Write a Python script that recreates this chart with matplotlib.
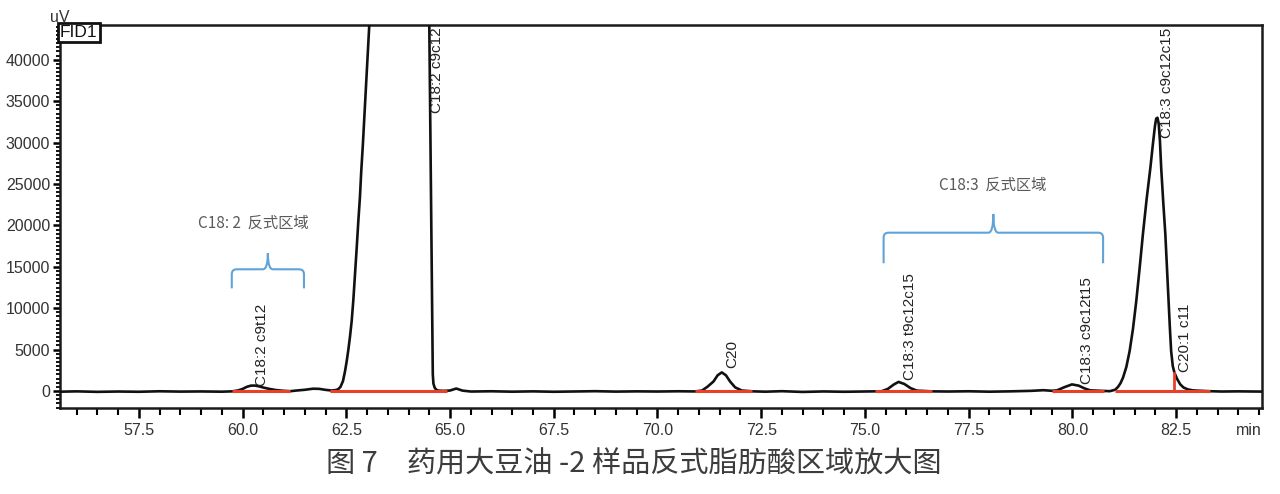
import matplotlib
matplotlib.use("Agg")
import matplotlib.pyplot as plt
from matplotlib.path import Path
from matplotlib.patches import PathPatch
from matplotlib.ticker import MultipleLocator, FixedLocator, FormatStrFormatter

# chromatogram trace (retention time in min, signal in uV)
time_min = [
    55.6, 56.0, 56.5, 57.0, 57.5, 58.0, 58.5, 59.0, 59.5, 59.75, 59.9, 60.0,
    60.1, 60.2, 60.3, 60.4, 60.5, 60.65, 60.8, 61.0, 61.15, 61.3, 61.5, 61.7,
    61.85, 62.0, 62.15, 62.25,
    62.30, 62.36, 62.42, 62.47, 62.51, 62.55, 62.59, 62.63, 62.67, 62.71, 62.75,
    62.79, 62.83, 62.86, 62.90, 62.93, 62.99, 63.05, 63.2, 63.6, 64.0, 64.3,
    64.46, 64.50, 64.585, 64.60, 64.63, 64.67, 64.72,
    64.85, 65.0, 65.15, 65.3, 65.5, 66.0, 66.5, 67.0, 67.5, 68.0, 68.5,
    69.0, 69.5, 70.0, 70.5, 70.9, 71.07, 71.2, 71.35, 71.45, 71.55, 71.65,
    71.75, 71.87, 72.03, 72.3, 72.6, 73.0, 73.5, 74.0, 74.5, 75.0, 75.4, 75.55,
    75.7, 75.81, 75.95, 76.1, 76.25, 76.6, 77.0, 77.5, 78.0, 78.5, 79.0, 79.3,
    79.5, 79.63, 79.8, 79.99, 80.15, 80.3, 80.43, 80.7, 80.9,
    81.03, 81.10, 81.16, 81.22, 81.30, 81.38, 81.46, 81.54, 81.62, 81.70, 81.79,
    81.88, 81.94, 81.99, 82.02, 82.05, 82.08, 82.11, 82.14, 82.19, 82.24, 82.28,
    82.32, 82.35, 82.38, 82.42, 82.46, 82.52, 82.60, 82.68, 82.78, 82.9,
    83.0, 83.3, 83.6, 84.0, 84.6,
]
signal_uv = [
    -80, -40, -100, -60, -90, -30, -70, -50, -80, -40, 80, 250,
    500, 650, 660, 560, 420, 250, 120, 20, -20, 60, 150, 280,
    260, 140, 60, 120,
    200, 500, 1200, 2400, 3600, 5000, 6600, 8450, 11000, 14000, 17200,
    20500, 23500, 26500, 29800, 32600, 38200, 43800, 60000, 90000, 120000, 140000,
    150000, 44500, 2000, 900, 400, 150, 50,
    20, 60, 300, 50, -60, -30, -80, -40, -90, -60, -20,
    -70, -40, -60, -30, -50, 50, 500, 1150, 1900, 2250, 1900,
    1150, 450, 60, -40, -80, -20, -110, -50, -90, -60, -30, 250,
    800, 1100, 850, 350, 50, -40, -60, -30, -80, -40, 20, 100,
    30, 80, 450, 800, 650, 300, 80, 20, -20,
    150, 500, 950, 1610, 2900, 4830, 7500, 10870, 14800, 18960, 23200,
    26970, 29800, 32000, 32900, 33000, 32300, 30200, 26970, 22800, 18960, 14800,
    10870, 7600, 4830, 3000, 2210, 1500, 800, 420, 200, 80,
    50, -20, -60, -40, -70,
]

# peak labels
peak_names = ["C18:2 c9t12", "C18:2 c9c12", "C20", "C18:3 t9c12c15",
              "C18:3 c9c12t15", "C18:3 c9c12c15", "C20:1 c11"]
label_time = [60.30, 64.52, 71.63, 75.92, 80.19, 82.12, 82.55]
label_uv = [600, 33580, 2780, 1330, 850, 30560, 2300]

# integration baselines (start, end) and drop line
base_start = [59.74, 62.11, 70.91, 75.25, 79.51, 81.03]
base_end = [61.15, 64.92, 72.28, 76.61, 80.76, 83.32]
drop_time = 82.44
drop_uv = 2210

# trans-region brackets
region_names = ["C18: 2  反式区域", "C18:3  反式区域"]
region_left = [59.74, 75.45]
region_right = [61.48, 80.74]
region_arm = [12400, 15430]
region_bar = [14700, 19120]
region_tip = [16630, 21380]
region_text_time = [60.25, 78.09]
region_text_uv = [20300, 24900]

BLUE = "#5fa3d8"
RED = "#e8402a"
GRAY = "#333333"

plt.rcParams["font.family"] = ["Liberation Sans", "DejaVu Sans"]

fig = plt.figure(figsize=(12.8, 4.94), dpi=100)
ax = fig.add_axes([60 / 1280, 1 - 408 / 494, 1202 / 1280, 383 / 494])

ax.plot(time_min, signal_uv, color="#111111", lw=1.9, zorder=3,
        solid_joinstyle="round")

for s, e in zip(base_start, base_end):
    ax.plot([s, e], [0, 0], color=RED, lw=2.2, zorder=4, solid_capstyle="butt")
ax.plot([drop_time, drop_time], [0, drop_uv], color=RED, lw=2.0, zorder=4)

for name, t, y in zip(peak_names, label_time, label_uv):
    ax.text(t, y, name, rotation=90, ha="left", va="bottom", fontsize=11,
            color="#222222", zorder=5, clip_on=True)


def brace(xl, xr, yarm, ybar, ytip, rx=0.12, ry=600):
    xc = (xl + xr) / 2
    verts = [(xl, yarm), (xl, ybar - ry), (xl, ybar), (xl + rx, ybar),
             (xc - rx, ybar), (xc, ybar), (xc, ytip),
             (xc, ybar), (xc + rx, ybar),
             (xr - rx, ybar), (xr, ybar), (xr, ybar - ry), (xr, yarm)]
    codes = [Path.MOVETO, Path.LINETO, Path.CURVE3, Path.CURVE3,
             Path.LINETO, Path.CURVE3, Path.CURVE3,
             Path.CURVE3, Path.CURVE3,
             Path.LINETO, Path.CURVE3, Path.CURVE3, Path.LINETO]
    return PathPatch(Path(verts, codes), fill=False, ec=BLUE, lw=1.5, zorder=2)


for i, name in enumerate(region_names):
    ax.add_patch(brace(region_left[i], region_right[i], region_arm[i],
                       region_bar[i], region_tip[i]))
    ax.text(region_text_time[i], region_text_uv[i], name, ha="center",
            va="center", fontsize=11, color="#5a5a5a",
            family=["Noto Sans CJK SC", "DejaVu Sans"])

ax.set_xlim(55.6, 84.57)
ax.set_ylim(-2050, 44200)

ax.xaxis.set_major_locator(FixedLocator([57.5 + 2.5 * i for i in range(11)]))
ax.xaxis.set_minor_locator(MultipleLocator(0.5))
ax.xaxis.set_major_formatter(FormatStrFormatter("%.1f"))
ax.set_yticks([5000 * i for i in range(9)])
ax.yaxis.set_minor_locator(MultipleLocator(500))

ax.tick_params(axis="x", which="major", length=7, width=1.8, pad=4,
               labelsize=11.5, labelcolor=GRAY, direction="out")
ax.tick_params(axis="x", which="minor", length=5, width=1.5, direction="out")
ax.tick_params(axis="y", which="major", length=5, width=1.8, pad=2,
               labelsize=11.5, labelcolor=GRAY, direction="out")
ax.tick_params(axis="y", which="minor", length=3, width=1.3, direction="out")

for sp in ax.spines.values():
    sp.set_linewidth(1.8)
    sp.set_color("#1a1a1a")

ax.text(0.0, 1.0, "FID1", transform=ax.transAxes, ha="left", va="top",
        fontsize=12.5, color="#111111", zorder=6,
        bbox=dict(boxstyle="square,pad=0.12", fc="white", ec="#111111", lw=2.0))
ax.text(0.0, 1.0, "uV", transform=ax.transAxes, ha="center", va="bottom",
        fontsize=11.5, color=GRAY)
ax.annotate("min", xy=(1.0, 0.0), xycoords="axes fraction", xytext=(0, -11),
            textcoords="offset points", ha="right", va="top", fontsize=11.5,
            color=GRAY)

fig.text(634 / 1280, 1 - 465 / 494, "图 7　药用大豆油 -2 样品反式脂肪酸区域放大图",
         ha="center", va="center", fontsize=21, color="#3c3c3c",
         family=["Noto Sans CJK SC", "DejaVu Sans"], fontweight="light")

fig.savefig("out.png", dpi=100)
